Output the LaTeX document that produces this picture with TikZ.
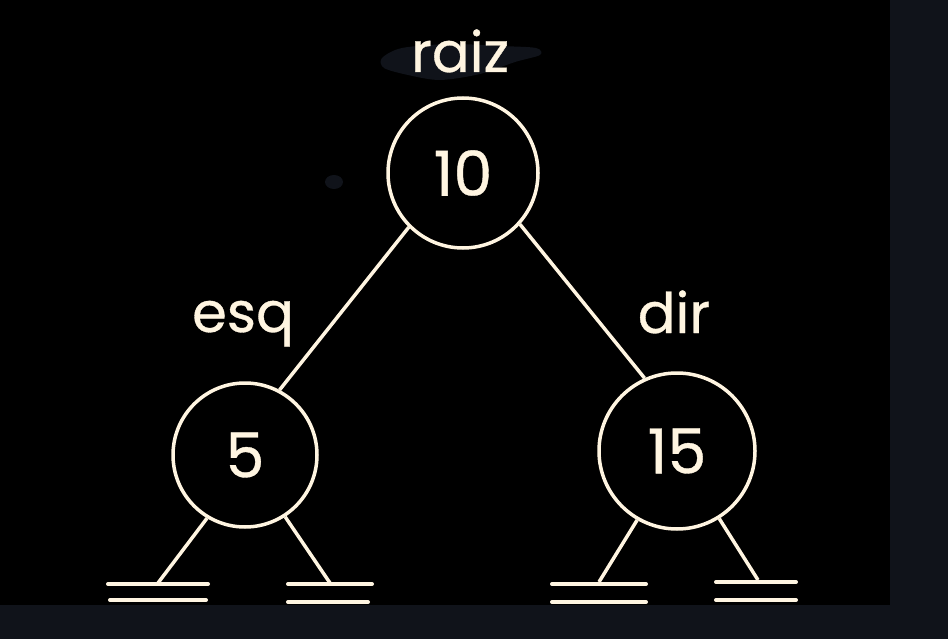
\documentclass[tikz,border=0pt]{standalone}
\usepackage{fontspec}
\setmainfont{Poppins}[FakeBold=0.6]
\definecolor{cream}{HTML}{FFF5E1}
\definecolor{navy}{HTML}{10131A}

\begin{document}
\begin{tikzpicture}[x=1pt, y=-1pt, line width=3.5pt, cream,
	main node/.style={circle,draw,inner sep=0pt,minimum size=150pt,font=\fontsize{62}{62}\selectfont},
	label node/.style={anchor=base,font=\fontsize{56}{56}\selectfont},
	ground/.style={line cap=round,line width=4pt}]
	
	\useasboundingbox (0,0) rectangle (948,639);
	\fill[navy] (0,0) rectangle (948,639);
	\fill[black] (0,0) rectangle (890,605);
	% smudges
	\fill[navy] plot[smooth cycle] coordinates {(382,58) (402,48) (450,44) (500,46) (536,48) (540,55) (515,62) (480,74) (440,80) (408,75) (384,68)};
	\fill[navy] (334,182) ellipse (9 and 7);
	
	\node[main node] (10) at (463,173) {10};
	\node[main node, minimum size=144pt] (5) at (245,455) {5};
	\node[main node, minimum size=156pt] (15) at (677,451) {15};
	
	\node[label node] (raiz) at (460,72) {raiz};
	\node[label node] (esq) at (243,332) {esq};
	\node[label node] (dir) at (674,333) {dir};
	
	\coordinate (n1) at (158,583);
	\coordinate (n2) at (330,583);
	\coordinate (n3) at (599,582);
	\coordinate (n4) at (758,580);
	
	\path[draw]
	(10.225) edge (5.62)
	(10.318) edge (15.114)
	(5.239) edge (n1)
	(5.303) edge (n2)
	(15.240) edge (n3)
	(15.302) edge (n4);
	
	% null leaves
	\draw[ground] (108,584) -- (208,584) (110,600) -- (206,600);
	\draw[ground] (288,584) -- (372,584) (288,602) -- (368,602);
	\draw[ground] (552,584) -- (646,584) (552,602) -- (646,602);
	\draw[ground] (716,582) -- (796,582) (716,600) -- (796,600);
\end{tikzpicture}
\end{document}
